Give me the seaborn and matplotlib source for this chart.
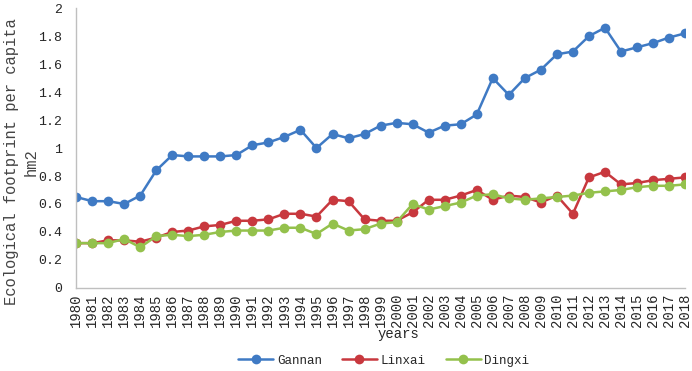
import numpy as np
import pandas as pd
import matplotlib
matplotlib.use("Agg")
import matplotlib.pyplot as plt
import seaborn as sns

years = list(range(1980, 2019))
gannan = [0.65, 0.62, 0.62, 0.60, 0.66, 0.84, 0.95, 0.94, 0.94, 0.94,
          0.95, 1.02, 1.04, 1.08, 1.13, 1.00, 1.10, 1.07, 1.10, 1.16,
          1.18, 1.17, 1.11, 1.16, 1.17, 1.24, 1.50, 1.38, 1.50, 1.56,
          1.67, 1.69, 1.80, 1.86, 1.69, 1.72, 1.75, 1.79, 1.82]
linxai = [0.32, 0.32, 0.34, 0.34, 0.33, 0.36, 0.40, 0.41, 0.44, 0.45,
          0.48, 0.48, 0.49, 0.53, 0.53, 0.51, 0.63, 0.62, 0.49, 0.48,
          0.48, 0.54, 0.63, 0.63, 0.66, 0.70, 0.63, 0.66, 0.65, 0.61,
          0.66, 0.53, 0.79, 0.83, 0.74, 0.75, 0.77, 0.78, 0.79]
dingxi = [0.32, 0.32, 0.32, 0.35, 0.29, 0.37, 0.38, 0.37, 0.38, 0.40,
          0.41, 0.41, 0.41, 0.43, 0.43, 0.385, 0.46, 0.41, 0.42, 0.46,
          0.47, 0.60, 0.56, 0.585, 0.61, 0.66, 0.67, 0.64, 0.63, 0.64,
          0.65, 0.66, 0.68, 0.69, 0.70, 0.72, 0.73, 0.73, 0.74]
regions = ["Gannan", "Linxai", "Dingxi"]
colors = ["#3F7AC4", "#C8383E", "#94C14C"]

df = pd.DataFrame({"year": years, "Gannan": gannan, "Linxai": linxai, "Dingxi": dingxi})
long = df.melt(id_vars="year", var_name="region", value_name="value")

sns.set_style("white")
plt.rcParams["font.family"] = ["Liberation Mono", "DejaVu Sans"]

fig = plt.figure(figsize=(6.92, 3.71), dpi=100)
ax = fig.add_axes([0.110, 0.224, 0.880, 0.754])

sns.lineplot(data=long, x="year", y="value", hue="region", hue_order=regions,
             palette=colors, marker="o", markersize=7, markeredgewidth=0,
             linewidth=1.8, ax=ax)

ax.set_xlim(1980, 2018)
ax.set_ylim(0, 2)
ax.set_xticks(years)
ax.set_xticklabels([str(y) for y in years], rotation=90, fontsize=10)
yt = np.round(np.arange(0, 2.01, 0.2), 1)
ax.set_yticks(yt)
ax.set_yticklabels(["%g" % v for v in yt], fontsize=9.5)
ax.tick_params(axis="y", length=0, pad=10)
ax.tick_params(axis="x", length=0, pad=4)

for s in ["top", "right"]:
    ax.spines[s].set_visible(False)
for s in ["left", "bottom"]:
    ax.spines[s].set_color("#BFBFBF")
    ax.spines[s].set_linewidth(1)

ax.set_xlabel("years", fontsize=10)
ax.xaxis.set_label_coords(0.53, -0.14)
ax.set_ylabel("Ecological footprint per capita\nhm2", fontsize=11.2, color="#444444",
              linespacing=1.35)
ax.yaxis.set_label_coords(-0.062, 0.45)

ax.legend(loc="center", bbox_to_anchor=(0.505, -0.26), ncol=3, frameon=False,
          fontsize=9, handlelength=2.8, columnspacing=1.6, handletextpad=0.3,
          borderpad=0.2)

fig.savefig("out.png", dpi=100)
